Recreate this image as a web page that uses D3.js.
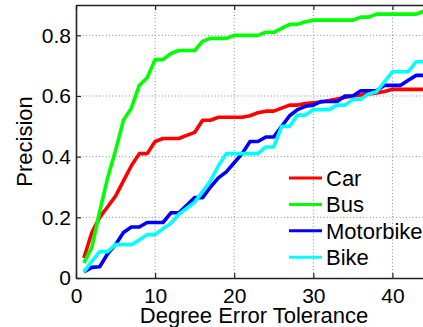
<!DOCTYPE html>
<html>
<head>
<meta charset="utf-8">
<script src="https://cdn.jsdelivr.net/npm/d3@7"></script>
<style>
  body { margin: 0; background: #fff; }
  svg { display: block; font-family: "Liberation Sans", Arial, Helvetica, sans-serif; }
</style>
</head>
<body>
<div id="chart"></div>
<script>
/* precision vs degree error tolerance */

var tolerance = d3.range(1, 45);
var car = [0.066,0.15,0.20,0.235,0.27,0.32,0.37,0.41,0.41,0.45,0.46,0.46,0.46,0.47,0.48,0.52,0.52,0.53,0.53,0.53,0.53,0.535,0.545,0.55,0.55,0.56,0.57,0.57,0.575,0.578,0.58,0.585,0.59,0.595,0.60,0.603,0.607,0.61,0.615,0.622,0.622,0.622,0.622,0.622];
var bus = [0.05,0.10,0.22,0.33,0.42,0.52,0.56,0.635,0.66,0.72,0.72,0.74,0.75,0.75,0.75,0.78,0.79,0.79,0.79,0.80,0.80,0.80,0.80,0.81,0.81,0.823,0.836,0.836,0.845,0.85,0.85,0.85,0.85,0.85,0.85,0.86,0.86,0.87,0.87,0.87,0.87,0.87,0.87,0.88];
var motorbike = [0.02,0.035,0.037,0.08,0.11,0.15,0.168,0.168,0.183,0.183,0.183,0.215,0.215,0.24,0.265,0.265,0.30,0.33,0.35,0.38,0.41,0.45,0.45,0.465,0.465,0.50,0.535,0.555,0.566,0.57,0.582,0.582,0.582,0.60,0.60,0.617,0.617,0.617,0.635,0.635,0.635,0.652,0.668,0.668];
var bike = [0.02,0.055,0.087,0.087,0.11,0.11,0.11,0.125,0.143,0.143,0.163,0.18,0.21,0.23,0.25,0.285,0.32,0.37,0.41,0.41,0.41,0.41,0.41,0.432,0.432,0.50,0.50,0.537,0.537,0.555,0.555,0.555,0.57,0.57,0.589,0.589,0.607,0.614,0.647,0.68,0.68,0.68,0.713,0.713];

var seriesNames = ["Car","Bus","Motorbike","Bike"];
var seriesColors = ["#ff0000","#00ff00","#0000ff","#00ffff"];
var seriesValues = [car, bus, motorbike, bike];
var xTicks = [0,10,20,30,40];
var yTicks = [0,0.2,0.4,0.6,0.8];

var W = 423, H = 327;
var pLeft = 76, pRight = 432, pTop = 5, pBottom = 278;

var svg = d3.select("#chart").append("svg")
  .attr("width", W).attr("height", H);

var x = d3.scaleLinear().domain([0,45]).range([pLeft,pRight]);
var y = d3.scaleLinear().domain([0,0.9]).range([pBottom,pTop]);

// dotted grid
svg.append("g").selectAll("line")
  .data(xTicks.filter(function(d){return d>0;})).enter()
  .append("line")
  .attr("x1",function(d){return x(d);}).attr("x2",function(d){return x(d);})
  .attr("y1",pTop).attr("y2",pBottom)
  .attr("stroke","#8a8a8a").attr("stroke-dasharray","1,2.3");
svg.append("g").selectAll("line")
  .data(yTicks.filter(function(d){return d>0;})).enter()
  .append("line")
  .attr("y1",function(d){return y(d);}).attr("y2",function(d){return y(d);})
  .attr("x1",pLeft).attr("x2",pRight)
  .attr("stroke","#8a8a8a").attr("stroke-dasharray","1,2.3");

// axes (matlab style ticks pointing in)
var gx = svg.append("g")
  .attr("transform","translate(0,"+pBottom+")")
  .call(d3.axisBottom(x).tickValues(xTicks).tickSize(-5).tickSizeOuter(0).tickPadding(10));
var gxt = svg.append("g")
  .attr("transform","translate(0,"+pTop+")")
  .call(d3.axisTop(x).tickValues(xTicks).tickSize(-5).tickSizeOuter(0).tickFormat(""));
var gy = svg.append("g")
  .attr("transform","translate("+pLeft+",0)")
  .call(d3.axisLeft(y).tickValues(yTicks).tickSize(-5).tickSizeOuter(0).tickPadding(5)
    .tickFormat(function(d){return d===0?"0":d3.format(".1f")(d);}));

[gx,gxt,gy].forEach(function(g){
  g.select(".domain").attr("stroke","#222").attr("stroke-width",1.6);
  g.selectAll(".tick line").attr("stroke","#222").attr("stroke-width",1.2);
  g.selectAll("text").attr("font-size",21).attr("font-family","Liberation Sans, Arial, sans-serif").attr("fill","#000");
});

// series lines
var line = d3.line()
  .x(function(d,i){return x(tolerance[i]);})
  .y(function(d){return y(d);});

seriesValues.forEach(function(vals,k){
  svg.append("path")
    .datum(vals)
    .attr("d",line)
    .attr("fill","none")
    .attr("stroke",seriesColors[k])
    .attr("stroke-width",3.6)
    .attr("stroke-linejoin","round");
});

// axis titles
svg.append("text")
  .text("Precision")
  .attr("transform","translate(32,"+((pTop+pBottom)/2)+")rotate(-90)")
  .attr("text-anchor","middle")
  .attr("font-size",22);
svg.append("text")
  .text("Degree Error Tolerance")
  .attr("x",(pLeft+pRight)/2).attr("y",323)
  .attr("text-anchor","middle")
  .attr("font-size",22);

// legend
var lg = svg.append("g");
seriesNames.forEach(function(name,k){
  var ly = 178 + k*26.4;
  lg.append("line")
    .attr("x1",289).attr("x2",322).attr("y1",ly).attr("y2",ly)
    .attr("stroke",seriesColors[k]).attr("stroke-width",3);
  lg.append("text")
    .text(name)
    .attr("x",326).attr("y",ly).attr("dy","0.36em")
    .attr("font-size",22);
});
</script>
</body>
</html>
